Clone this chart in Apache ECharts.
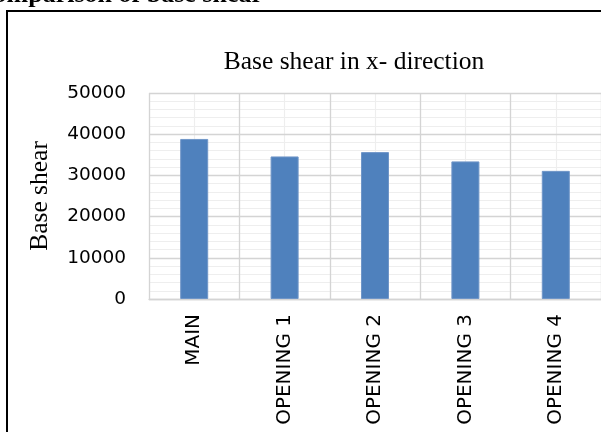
<!DOCTYPE html>
<html>
<head>
<meta charset="utf-8">
<script src="https://cdn.jsdelivr.net/npm/echarts@6/dist/echarts.min.js"></script>
<style>
  html, body { margin: 0; padding: 0; background: #fff; }
  #chart { width: 601px; height: 432px; }
</style>
</head>
<body>
<div id="chart"></div>
<script>
// Base shear per building model, x-direction
const categories = ['MAIN', 'OPENING 1', 'OPENING 2', 'OPENING 3', 'OPENING 4'];
const baseShear = [38850, 34600, 35650, 33400, 31100];
const yTicks = { min: 0, max: 50000, interval: 10000 };

const chart = echarts.init(document.getElementById('chart'), null, { renderer: 'canvas' });

const sans = 'DejaVu Sans';
const serif = '"Liberation Serif", "Times New Roman", serif';

chart.setOption({
  animation: false,
  backgroundColor: '#ffffff',
  title: {
    text: 'Base shear in x- direction',
    left: 349,
    top: 44,
    textAlign: 'center',
    textStyle: { fontFamily: serif, fontSize: 25.5, fontWeight: 'normal', color: '#000' }
  },
  graphic: [
    {
      type: 'rect',
      shape: { x: 7, y: 11, width: 620, height: 440 },
      style: { fill: 'none', stroke: '#000', lineWidth: 2 },
      silent: true
    },
    {
      type: 'text',
      style: {
        text: 'Comparison of base shear',
        x: 263, y: -5,
        textAlign: 'right', textVerticalAlign: 'middle',
        font: 'bold 26px ' + serif,
        fill: '#000'
      },
      silent: true
    }
  ],
  grid: { left: 149, top: 93, width: 454, height: 206, containLabel: false },
  xAxis: [
    {
      type: 'category',
      data: categories,
      z: 1,
      axisLine: { show: true, lineStyle: { color: '#d4d4d4', width: 1.3 } },
      axisTick: { show: false },
      splitLine: { show: true, lineStyle: { color: '#d4d4d4', width: 1.3 } },
      axisLabel: {
        interval: 0, rotate: 90, margin: 15,
        fontFamily: sans, fontSize: 20, color: '#000'
      }
    },
    {
      // light lines through the category centres
      type: 'value',
      min: 0,
      max: categories.length * 2,
      interval: 1,
      z: 0,
      show: true,
      axisLine: { show: false },
      axisTick: { show: false },
      axisLabel: { show: false },
      splitLine: { show: true, lineStyle: { color: '#eeeeee', width: 1.2 } }
    }
  ],
  yAxis: {
    type: 'value',
    min: yTicks.min,
    max: yTicks.max,
    interval: yTicks.interval,
    z: 1,
    name: 'Base shear',
    nameLocation: 'middle',
    nameGap: 96,
    nameTextStyle: { fontFamily: serif, fontSize: 25.5, color: '#000' },
    axisLine: { show: false },
    axisTick: { show: false },
    axisLabel: {
      margin: 23, fontFamily: sans, fontSize: 18.5, color: '#000',
      formatter: v => String(v)
    },
    splitLine: { show: true, lineStyle: { color: '#d4d4d4', width: 1.3 } },
    minorTick: { show: false, splitNumber: 5 },
    minorSplitLine: { show: true, lineStyle: { color: '#eeeeee', width: 1.2 } }
  },
  series: [{
    type: 'bar',
    xAxisIndex: 0,
    data: baseShear,
    barWidth: '31%',
    z: 5,
    itemStyle: { color: '#4F81BD', borderColor: '#7096C8', borderWidth: 1 }
  }]
});
</script>
</body>
</html>
